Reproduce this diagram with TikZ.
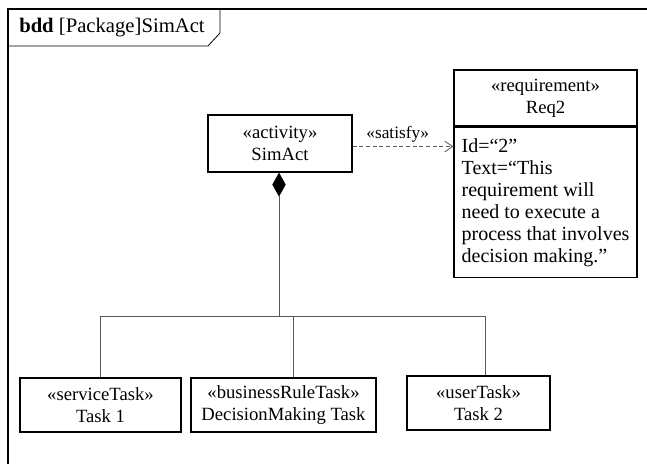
\documentclass[tikz,border=0pt]{standalone}
\usepackage{fontspec}
\setmainfont{Liberation Serif}
\usetikzlibrary{arrows.meta,positioning}

\tikzset{
  block/.style={draw, line width=0.9pt, align=center, inner sep=1pt, font=\fontsize{14}{16.5}\selectfont},
  link/.style={draw=black!65, line width=0.6pt},
}

\begin{document}
\begin{tikzpicture}[x=0.75pt,y=-0.75pt]
\useasboundingbox (0,0) rectangle (647,464);
% frame and tab
\draw[line width=0.9pt] (8,464) -- (8,9) -- (647,9);
\draw[line width=0.6pt] (220,9) -- (220,33) -- (208,46) -- (8,46);
\node[anchor=base west, inner sep=0, font=\fontsize{15.5}{16}\selectfont] (title) at (19,32) {\textbf{bdd} [Package]SimAct};

\node[block, minimum width=108pt, minimum height=42.75pt] (simact) at (280,143.5) {«activity»\\SimAct};
\node[block, minimum width=137.25pt, minimum height=42pt] (reqhead) at (545.5,98) {«requirement»\\Req2};
\node[block, below=0pt of reqhead, minimum width=137.25pt, minimum height=112.5pt] (reqbody) {};
\node[anchor=north west, inner sep=0, align=left, font=\fontsize{15}{16.5}\selectfont] (reqtext)
      at ([xshift=6pt,yshift=-9pt]reqbody.north west)
      {Id=“2”\\Text=“This\\requirement will\\need to execute a\\process that involves\\decision making.”};

\node[block, minimum width=120.75pt, minimum height=40.5pt] (task1) at (100.5,405) {«serviceTask»\\Task 1};
\node[block, minimum width=138.75pt, minimum height=40.5pt] (dmtask) at (283.5,405) {«businessRuleTask»\\DecisionMaking Task};
\node[block, minimum width=107.25pt, minimum height=40.5pt] (usertask) at (478.5,403) {«userTask»\\Task 2};

% satisfy
\coordinate (satfrom) at ([yshift=-2.25pt]simact.east);
\draw[link, dash pattern=on 3pt off 2pt, -{Straight Barb[length=6pt,width=8pt]}] (satfrom) -- (satfrom -| reqbody.west)
      node[midway, above, inner sep=3pt, xshift=-4pt, text=black, font=\fontsize{13}{14}\selectfont] {«satisfy»};

% composition
\coordinate (fork) at (279,316);
\coordinate (dj) at ([xshift=7.125pt]dmtask.north);
\coordinate (uj) at ([xshift=4.875pt]usertask.north);
\draw[link, {Diamond[length=18pt,width=10pt,color=black]}-] (simact.south -| fork) -- (fork);
\draw[link] (task1.north) -- (task1.north |- fork) -- (uj |- fork) -- (uj);
\draw[link] (dj) -- (dj |- fork);
\end{tikzpicture}
\end{document}
